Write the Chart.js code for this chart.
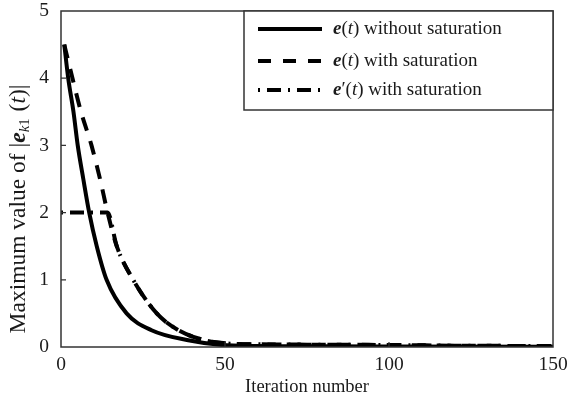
<!DOCTYPE html>
<html>
<head>
<meta charset="utf-8">
<script src="https://cdn.jsdelivr.net/npm/chart.js@4/dist/chart.umd.min.js"></script>
<style>
html,body{margin:0;padding:0;background:#fff;}
#wrap{width:568px;height:402px;}
</style>
</head>
<body>
<div id="wrap"><canvas id="c" width="568" height="402"></canvas></div>
<script>
// Iteration numbers and values
const tNoSat  = [1, 2.2, 3.8, 5.1, 6.8, 8.6, 10.9, 13.9, 20, 27.6, 38.8, 49, 60, 80, 100, 150];
const eNoSat  = [4.5, 4.0, 3.5, 3.0, 2.5, 2.0, 1.5, 1.0, 0.5, 0.25, 0.1, 0.03, 0.015, 0.01, 0.008, 0.005];

const tSat    = [1, 3.5, 6.1, 9.3, 11.9, 14.2, 17, 22, 29.2, 35.8, 43.9, 51.5, 60, 75, 100, 120, 150];
const eSat    = [4.5, 4.0, 3.5, 3.0, 2.5, 2.0, 1.5, 1.0, 0.5, 0.25, 0.1, 0.05, 0.04, 0.035, 0.03, 0.02, 0.015];

const tSatP   = [0, 14.2, 17, 22, 29.2, 35.8, 43.9, 51.5, 60, 75, 100, 120, 150];
const eSatP   = [2.0, 2.0, 1.5, 1.0, 0.5, 0.25, 0.1, 0.05, 0.04, 0.035, 0.03, 0.02, 0.015];

const xTicks = [0, 50, 100, 150];
const yTicks = [0, 1, 2, 3, 4, 5];

const pts = (xs, ys) => xs.map((x, i) => ({x: x, y: ys[i]}));

const SERIF = '"Liberation Serif", "Times New Roman", serif';
const INK = '#1a1a1a';

const legendRows = [
  {parts: [['e','italic bold'],['(',''],['t','italic'],[')',''],[' without saturation','']], dash: []},
  {parts: [['e','italic bold'],['(',''],['t','italic'],[')',''],[' with saturation','']], dash: [13, 12]},
  {parts: [['e','italic bold'],['\u2032',''],['(',''],['t','italic'],[')',''],[' with saturation','']], dash: [2, 7, 14, 7]}
];

function drawParts(ctx, parts, x, y, size) {
  let cx = x;
  for (const [txt, style] of parts) {
    ctx.font = (style ? style + ' ' : '') + size + 'px ' + SERIF;
    ctx.fillText(txt, cx, y);
    cx += ctx.measureText(txt).width;
  }
  return cx - x;
}
function measureParts(ctx, parts, size) {
  let w = 0;
  for (const [txt, style] of parts) {
    ctx.font = (style ? style + ' ' : '') + size + 'px ' + SERIF;
    w += ctx.measureText(txt).width;
  }
  return w;
}

const decor = {
  id: 'decor',
  afterDraw(chart) {
    const ctx = chart.ctx;
    const a = chart.chartArea;
    const xs = chart.scales.x, ys = chart.scales.y;
    ctx.save();
    // plot frame
    ctx.strokeStyle = '#333';
    ctx.lineWidth = 1.5;
    ctx.setLineDash([]);
    ctx.strokeRect(a.left, a.top, a.right - a.left, a.bottom - a.top);
    // inward ticks
    ctx.lineWidth = 1.2;
    ctx.beginPath();
    yTicks.forEach(v => {
      if (v === 0 || v === 5) return;
      const py = ys.getPixelForValue(v);
      ctx.moveTo(a.left, py); ctx.lineTo(a.left + 5, py);
    });
    xTicks.forEach(v => {
      if (v === 0 || v === 150) return;
      const px = xs.getPixelForValue(v);
      ctx.moveTo(px, a.bottom); ctx.lineTo(px, a.bottom - 5);
    });
    ctx.stroke();

    // legend box
    const lx = 244, ly = a.top, lw = a.right - 244, lh = 99;
    ctx.fillStyle = '#fff';
    ctx.fillRect(lx, ly, lw, lh);
    ctx.strokeStyle = '#333';
    ctx.lineWidth = 1.5;
    ctx.strokeRect(lx, ly, lw, lh);
    const rowY = [29, 61, 90];
    legendRows.forEach((r, i) => {
      ctx.strokeStyle = '#000';
      ctx.lineWidth = 4;
      ctx.lineCap = 'butt';
      ctx.setLineDash(r.dash);
      ctx.beginPath();
      ctx.moveTo(258, rowY[i]); ctx.lineTo(322, rowY[i]);
      ctx.stroke();
      ctx.setLineDash([]);
      ctx.fillStyle = INK;
      ctx.textBaseline = 'middle';
      drawParts(ctx, r.parts, 333, rowY[i], 19);
    });

    // x axis title
    ctx.fillStyle = INK;
    ctx.textBaseline = 'middle';
    ctx.textAlign = 'center';
    ctx.font = '18.5px ' + SERIF;
    ctx.fillText('Iteration number', (a.left + a.right) / 2, 387);

    // y axis title (rotated, with subscript)
    ctx.textAlign = 'left';
    ctx.translate(19, 209);
    ctx.rotate(-Math.PI / 2);
    const fs = 23.5, fsSub = 15;
    const main = [['Maximum value of |',''],['e','italic bold']];
    const sub = [['k','italic'],['1','']];
    const tail = [['\u2009(',''],['t','italic'],[')|','']];
    const w = measureParts(ctx, main, fs) + measureParts(ctx, sub, fsSub) + 2 + measureParts(ctx, tail, fs);
    let x0 = -w / 2;
    x0 += drawParts(ctx, main, x0, 0, fs);
    x0 += drawParts(ctx, sub, x0, 6, fsSub) + 2;
    drawParts(ctx, tail, x0, 0, fs);
    ctx.restore();
  }
};

new Chart(document.getElementById('c'), {
  type: 'line',
  data: {
    datasets: [
      {label: 'e(t) without saturation', data: pts(tNoSat, eNoSat), borderColor: '#000', borderWidth: 4, borderDash: [], pointRadius: 0, cubicInterpolationMode: 'monotone', fill: false},
      {label: 'e(t) with saturation', data: pts(tSat, eSat), borderColor: '#000', borderWidth: 4, borderDash: [14, 11], pointRadius: 0, cubicInterpolationMode: 'monotone', fill: false},
      {label: "e'(t) with saturation", data: pts(tSatP, eSatP), borderColor: '#000', borderWidth: 4, borderDash: [2, 7, 14, 7], pointRadius: 0, cubicInterpolationMode: 'monotone', fill: false}
    ]
  },
  options: {
    responsive: false,
    animation: false,
    devicePixelRatio: 1,
    layout: {padding: {left: 0, top: 11, right: 15, bottom: 0}},
    plugins: {legend: {display: false}, tooltip: {enabled: false}},
    scales: {
      x: {
        type: 'linear', min: 0, max: 150,
        grid: {display: false, drawTicks: false},
        border: {display: false},
        afterBuildTicks: s => { s.ticks = xTicks.map(v => ({value: v})); },
        afterFit: s => { s.height = 55; s.paddingLeft = 0; s.paddingRight = 0; },
        ticks: {padding: 6, color: INK, font: {family: SERIF, size: 19.5}, maxRotation: 0}
      },
      y: {
        type: 'linear', min: 0, max: 5,
        grid: {display: false, drawTicks: false},
        border: {display: false},
        afterBuildTicks: s => { s.ticks = yTicks.map(v => ({value: v})); },
        afterFit: s => { s.width = 61; s.paddingTop = 0; s.paddingBottom = 0; },
        ticks: {padding: 12, color: INK, font: {family: SERIF, size: 19.5}}
      }
    }
  },
  plugins: [decor]
});
</script>
</body>
</html>
